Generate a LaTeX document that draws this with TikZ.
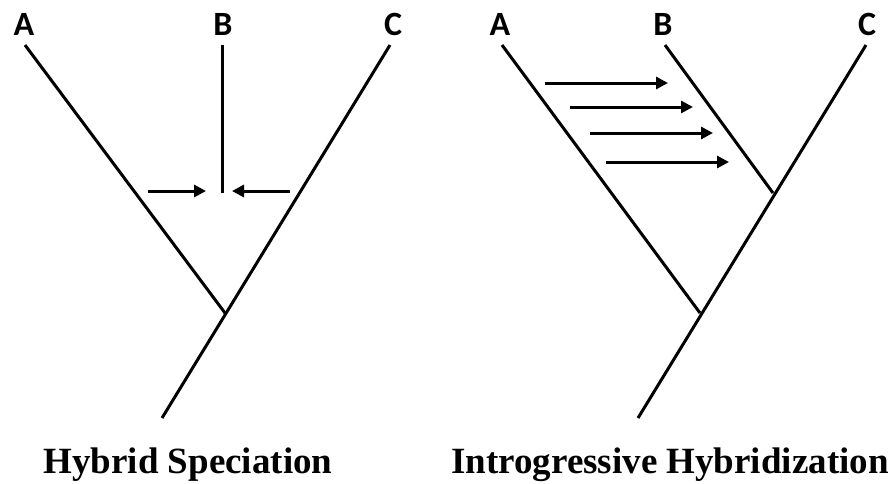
\documentclass[tikz,border=0pt]{standalone}
\usepackage{fontspec}
\setmainfont{Liberation Serif}
\setsansfont{Carlito}
\usetikzlibrary{arrows.meta}

\tikzset{
  branch/.style={line width=3pt},
  flow/.style={line width=3pt, -{Triangle[length=12pt, width=12pt]}},
  taxon/.style={anchor=base, inner sep=0pt, font=\sffamily\bfseries\fontsize{34}{36}\selectfont},
  title/.style={anchor=base, inner sep=0pt, font=\bfseries\fontsize{37}{40}\selectfont}
}

\begin{document}
\begin{tikzpicture}[x=1pt, y=-1pt]
\useasboundingbox (0,0) rectangle (893,483);

% hybrid speciation
\node (A1)[taxon] at (24, 35) {A};
\node (B1)[taxon] at (223, 35) {B};
\node (C1)[taxon] at (393, 35) {C};
\coordinate (a1) at (25, 45);
\coordinate (b1) at (222, 45);
\coordinate (c1) at (390, 45);
\coordinate (b1end) at (222, 193);
\coordinate (r1) at (225, 313);
\coordinate (base1) at (162, 418);

\draw[branch] (a1) -- (r1);
\draw[branch] (c1) -- (base1);
\draw[branch] (b1) -- (b1end);

\coordinate (la) at (148, 191);
\coordinate (lb) at (206, 191);
\coordinate (ra) at (290, 191);
\coordinate (rb) at (232, 191);
\draw[flow] (la) -- (lb);
\draw[flow] (ra) -- (rb);

\node (T1)[title] at (188, 473) {Hybrid Speciation};

% introgressive hybridization
\node (A2)[taxon] at (500, 35) {A};
\node (B2)[taxon] at (663, 35) {B};
\node (C2)[taxon] at (867, 35) {C};
\coordinate (a2) at (502, 45);
\coordinate (b2) at (665, 45);
\coordinate (c2) at (866, 45);
\coordinate (j2) at (773, 193);
\coordinate (r2) at (700, 313);
\coordinate (base2) at (638, 418);

\draw[branch] (a2) -- (r2);
\draw[branch] (c2) -- (base2);
\draw[branch] (b2) -- (j2);

\foreach \xs/\xe/\y in {545/668/83, 570/693/107, 590/713/133, 606/729/162} {
  \coordinate (s) at (\xs, \y);
  \coordinate (e) at (\xe, \y);
  \draw[flow] (s) -- (e);
}

\node (T2)[title] at (670, 473) {Introgressive Hybridization};
\end{tikzpicture}
\end{document}
